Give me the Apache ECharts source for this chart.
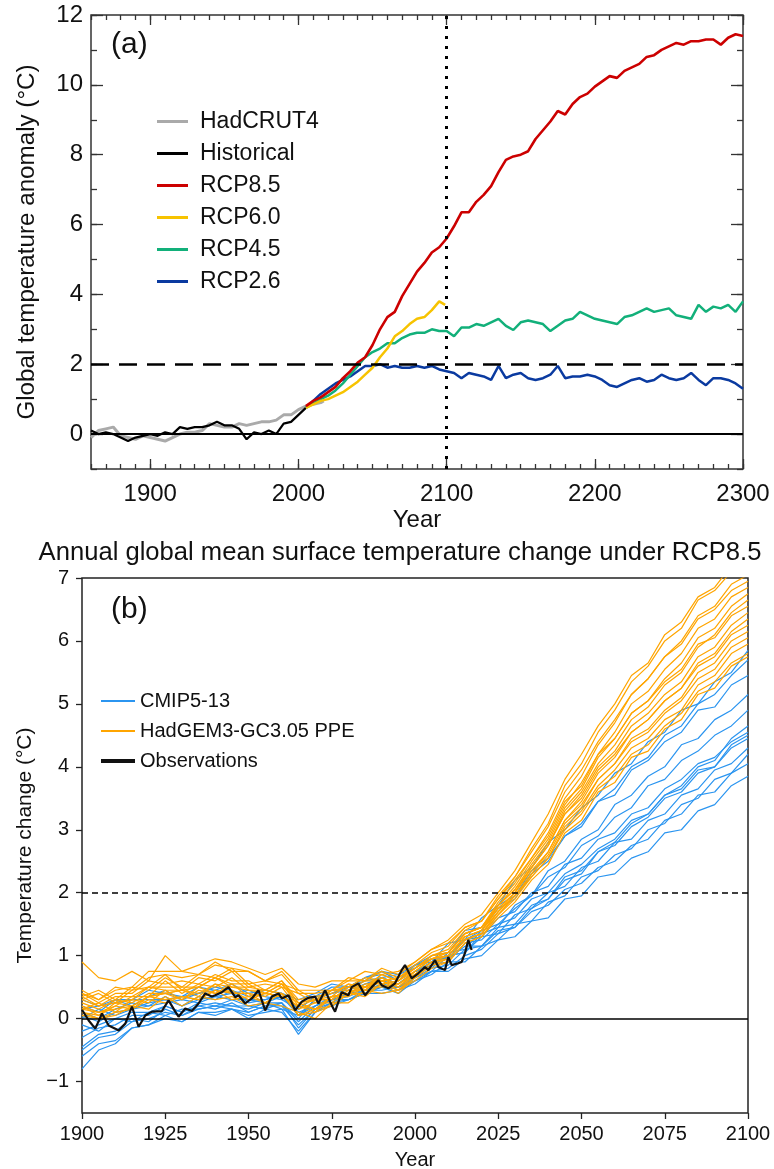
<!DOCTYPE html>
<html lang="en">
<head>
<meta charset="UTF-8">
<title>Global temperature anomaly</title>
<script src="https://cdn.jsdelivr.net/npm/echarts@6/dist/echarts.min.js"></script>
<style>
    html, body { margin: 0; padding: 0; background: #fff; }
    #chart { width: 774px; height: 1169px; }
</style>
</head>
<body>
<div id="chart"></div>
<script>
    /* ---- panel (a) ---- */
    const aMajorX = [1900, 2000, 2100, 2200, 2300];
    const aMajorY = [0, 2, 4, 6, 8, 10, 12];

    const hadYears = [1860,1865,1870,1875,1880,1885,1890,1895,1900,1905,1910,1915,1920,1925,1930,1935,1940,1945,1950,1955,1960,1965,1970,1975,1980,1985,1990,1995,2000,2005,2010,2015,2017];
    const hadVals = [-0.1,0.1,0.15,0.2,-0.05,-0.1,-0.15,-0.05,-0.1,-0.15, -0.2,-0.1,0.0,0.05,0.05,0.1,0.3,0.25,0.2,0.2, 0.3,0.25,0.3,0.35,0.35,0.4,0.55,0.55,0.7,0.8, 0.85,0.9,0.95];

    const histYears = [1860,1865,1870,1875,1880,1885,1890,1895,1900,1905,1910,1915,1920,1925,1930,1935,1940,1945,1950,1955,1960,1965,1970,1975,1980,1985,1990,1995,2000,2005];
    const histVals = [0.1,0.0,0.05,0.0,-0.1,-0.2,-0.1,-0.05,0.0,-0.05, 0.05,0.0,0.2,0.15,0.2,0.2,0.25,0.35,0.25,0.25, 0.15,-0.15,0.05,0.0,0.1,0.0,0.3,0.35,0.55,0.75];

    const rcpYears = [2005,2010,2015,2020,2025,2030,2035,2040,2045,2050,2055,2060,2065,2070,2075,2080,2085,2090,2095,2100,
        2105,2110,2115,2120,2125,2130,2135,2140,2145,2150,2155,2160,2165,2170,2175,2180,2185,2190,2195,2200,
        2205,2210,2215,2220,2225,2230,2235,2240,2245,2250,2255,2260,2265,2270,2275,2280,2285,2290,2295,2300];
    const rcp85 = [0.8,0.95,1.05,1.2,1.35,1.6,1.8,2.05,2.2,2.55, 3.0,3.35,3.5,3.95,4.3,4.65,4.9,5.2,5.35,5.6,
        5.95,6.35,6.35,6.65,6.85,7.1,7.5,7.85,7.95,8.0, 8.1,8.45,8.7,8.95,9.25,9.15,9.45,9.65,9.75,9.95,
        10.1,10.25,10.2,10.4,10.5,10.6,10.8,10.85,11.0,11.1, 11.2,11.15,11.25,11.25,11.3,11.3,11.15,11.35,11.45,11.4];
    const rcp45 = [0.75,0.88,1.0,1.1,1.25,1.45,1.7,1.95,2.2,2.35, 2.45,2.6,2.6,2.75,2.85,2.9,2.9,3.0,2.95,2.95,
        2.8,3.05,3.05,3.15,3.1,3.2,3.3,3.1,2.98,3.2, 3.25,3.2,3.15,2.95,3.1,3.25,3.3,3.5,3.4,3.3,
        3.25,3.2,3.15,3.35,3.4,3.5,3.6,3.5,3.55,3.6, 3.4,3.35,3.3,3.7,3.5,3.65,3.6,3.7,3.5,3.8];
    const rcp26 = [0.75,0.95,1.15,1.3,1.45,1.55,1.65,1.8,1.95,1.95, 2.0,1.9,1.95,1.9,1.9,1.95,1.9,1.95,1.85,1.8,
        1.75,1.6,1.75,1.7,1.65,1.55,1.95,1.6,1.7,1.75, 1.6,1.55,1.6,1.7,1.95,1.6,1.65,1.65,1.7,1.65,
        1.55,1.4,1.35,1.45,1.55,1.6,1.5,1.55,1.7,1.6, 1.55,1.6,1.75,1.55,1.4,1.6,1.6,1.55,1.45,1.3];
    const rcp60Years = [2005,2010,2015,2020,2025,2030,2035,2040,2045,2050,2055,2060,2065,2070,2075,2080,2085,2090,2095,2099];
    const rcp60 = [0.75,0.85,0.95,1.0,1.1,1.2,1.35,1.5,1.7,1.9, 2.2,2.45,2.8,2.95,3.15,3.3,3.35,3.55,3.8,3.7];

    /* ---- panel (b) ---- */
    const bTicksY = [-1, 0, 1, 2, 3, 4, 5, 6, 7];
    const bYears = [1900,1905,1910,1915,1920,1925,1930,1935,1940,1945,1950,1955,1960,1965,1970,1975,1980,1985,1990,1995,
        2000,2005,2010,2015,2020,2025,2030,2035,2040,2045,2050,2055,2060,2065,2070,2075,2080,2085,2090,2095,2100];

    const cmip5 = [
        [0.1,0.0,0.15,0.25,0.2,0.35,0.2,0.35,0.3,0.45, 0.25,0.3,0.4,0.05,0.3,0.45,0.45,0.6,0.75,0.6, 0.85,0.9,1.2,1.25,1.6,1.8,2.2,2.4,2.8,3.0,3.35,3.55,3.9,4.05,4.4,4.55,4.9,5.0,5.35,5.5,5.85],
        [-0.3,-0.15,-0.1,0.05,0.05,0.2,0.1,0.25,0.2,0.3, 0.2,0.25,0.25,0.0,0.3,0.3,0.5,0.45,0.65,0.55, 0.75,0.9,1.0,1.25,1.4,1.75,1.9,2.3,2.5,2.9,3.1,3.45,3.65,4.0,4.15,4.5,4.65,5.0,5.15,5.45,5.7],
        [0.2,0.1,0.3,0.2,0.35,0.45,0.3,0.4,0.5,0.45, 0.35,0.45,0.4,0.15,0.35,0.5,0.5,0.65,0.7,0.6, 0.85,1.0,1.05,1.4,1.45,1.8,1.95,2.35,2.55,2.9,3.05,3.45,3.55,3.95,4.1,4.4,4.55,4.9,4.95,5.3,5.45],
        [-0.5,-0.3,-0.25,-0.05,0.0,0.1,0.05,0.15,0.2,0.15, 0.1,0.2,0.25,-0.15,0.15,0.25,0.4,0.4,0.55,0.45, 0.65,0.75,1.0,1.05,1.35,1.45,1.8,1.95,2.35,2.5,2.85,3.0,3.4,3.55,3.85,4.0,4.35,4.45,4.75,4.9,5.15],
        [0.0,0.15,0.05,0.15,0.25,0.3,0.2,0.3,0.35,0.4, 0.3,0.25,0.35,0.1,0.2,0.35,0.4,0.55,0.6,0.55, 0.75,0.8,1.05,1.1,1.4,1.5,1.75,1.95,2.25,2.4,2.75,2.9,3.2,3.35,3.7,3.8,4.1,4.25,4.5,4.65,4.9],
        [-0.8,-0.5,-0.4,-0.15,-0.1,0.0,-0.05,0.1,0.05,0.15, 0.05,0.1,0.15,-0.25,0.1,0.2,0.3,0.4,0.4,0.45, 0.55,0.75,0.8,1.0,1.1,1.35,1.45,1.75,1.9,2.25,2.35,2.65,2.8,3.1,3.25,3.55,3.7,4.0,4.1,4.45,4.65],
        [0.15,0.2,0.25,0.3,0.3,0.3,0.35,0.4,0.45,0.4, 0.45,0.35,0.3,0.15,0.35,0.4,0.5,0.6,0.65,0.7, 0.8,0.95,1.0,1.25,1.3,1.6,1.7,2.0,2.1,2.45,2.55,2.85,2.95,3.25,3.35,3.65,3.8,4.05,4.15,4.4,4.55],
        [-0.2,-0.1,0.0,0.1,0.1,0.2,0.1,0.2,0.25,0.2, 0.2,0.15,0.25,-0.05,0.2,0.3,0.4,0.45,0.55,0.5, 0.65,0.8,0.85,1.1,1.15,1.45,1.5,1.8,1.9,2.2,2.3,2.65,2.75,3.05,3.2,3.5,3.6,3.9,4.0,4.35,4.5],
        [-0.45,-0.25,-0.2,0.0,-0.05,0.15,0.05,0.2,0.15,0.25, 0.1,0.2,0.2,-0.1,0.15,0.3,0.35,0.45,0.5,0.5, 0.7,0.85,0.9,1.2,1.25,1.5,1.6,1.9,2.0,2.3,2.45,2.7,2.85,3.15,3.25,3.55,3.65,3.95,4.0,4.3,4.45],
        [0.05,-0.05,0.1,0.15,0.2,0.25,0.3,0.25,0.35,0.3, 0.3,0.3,0.35,0.05,0.3,0.4,0.45,0.55,0.65,0.55, 0.75,0.85,1.0,1.05,1.3,1.35,1.65,1.75,2.0,2.1,2.4,2.5,2.8,2.85,3.15,3.25,3.55,3.65,3.95,4.05,4.3],
        [-0.6,-0.4,-0.35,-0.15,-0.1,0.05,-0.05,0.1,0.1,0.15, 0.0,0.15,0.1,-0.2,0.1,0.25,0.3,0.4,0.5,0.4, 0.6,0.7,0.9,0.9,1.15,1.25,1.5,1.55,1.85,1.95,2.25,2.35,2.6,2.7,3.0,3.1,3.4,3.5,3.8,3.9,4.2],
        [0.3,0.2,0.3,0.3,0.45,0.4,0.35,0.5,0.45,0.55, 0.4,0.45,0.4,0.3,0.4,0.55,0.5,0.65,0.75,0.7, 0.85,0.95,0.95,1.15,1.15,1.4,1.45,1.7,1.8,2.05,2.15,2.4,2.5,2.75,2.85,3.15,3.25,3.55,3.6,3.9,4.05],
        [-0.1,-0.2,0.0,-0.05,0.1,0.05,0.15,0.15,0.2,0.2, 0.15,0.25,0.15,0.05,0.2,0.3,0.3,0.45,0.45,0.5, 0.6,0.75,0.75,0.95,1.0,1.25,1.3,1.55,1.6,1.9,1.95,2.25,2.3,2.55,2.65,2.95,3.0,3.3,3.4,3.7,3.85]
    ];

    const ppe = [
        [0.9,0.65,0.6,0.75,0.6,1.0,0.75,0.85,0.95,0.9, 0.8,0.7,0.8,0.55,0.5,0.6,0.6,0.75,0.7,0.75, 0.9,1.1,1.25,1.5,1.65,2.0,2.35, 2.8,3.25,3.8,4.2,4.65,5.0,5.45,5.65, 6.1,6.3,6.7,6.85,7.2,7.3],
        [0.3,0.2,0.25,0.3,0.5,0.45,0.45,0.5,0.65,0.5, 0.5,0.45,0.6,0.3,0.35,0.4,0.55,0.5,0.7,0.6, 0.8,1.0,1.1,1.4,1.55,1.95,2.25, 2.7,3.1,3.7,4.05,4.55,4.9,5.35,5.6, 6.0,6.2,6.65,6.8,7.1,7.2],
        [0.15,0.1,0.2,0.35,0.35,0.6,0.4,0.55,0.5,0.65, 0.45,0.45,0.4,0.25,0.15,0.35,0.4,0.55,0.55,0.6, 0.75,0.95,1.05,1.35,1.45,1.85,2.15, 2.55,2.95,3.5,3.85,4.35,4.7,5.15,5.4, 5.75,6.0,6.4,6.55,6.9,7.05],
        [0.4,0.3,0.5,0.45,0.65,0.7,0.65,0.7,0.85,0.8, 0.75,0.6,0.7,0.4,0.4,0.45,0.6,0.6,0.75,0.65, 0.85,1.05,1.15,1.45,1.55,1.9,2.25, 2.65,3.05,3.6,3.95,4.4,4.75,5.15,5.4, 5.75,5.95,6.35,6.5,6.8,6.95],
        [0.2,0.1,0.15,0.2,0.35,0.4,0.3,0.45,0.4,0.45, 0.3,0.4,0.35,0.2,0.15,0.35,0.4,0.5,0.6,0.5, 0.7,0.9,1.0,1.3,1.4,1.8,2.1, 2.5,2.85,3.4,3.75,4.2,4.55,5.0,5.2, 5.55,5.8,6.2,6.35,6.7,6.85],
        [0.35,0.45,0.3,0.5,0.45,0.65,0.5,0.7,0.65,0.8, 0.55,0.6,0.55,0.45,0.3,0.45,0.5,0.65,0.6,0.65, 0.8,0.95,1.05,1.35,1.45,1.8,2.05, 2.45,2.8,3.35,3.65,4.15,4.45,4.85,5.05, 5.4,5.65,6.05,6.2,6.55,6.75],
        [0.1,0.05,0.2,0.15,0.35,0.3,0.35,0.3,0.45,0.4, 0.4,0.25,0.4,0.05,0.15,0.2,0.4,0.4,0.55,0.45, 0.65,0.85,0.95,1.25,1.35,1.7,2.0, 2.4,2.75,3.3,3.6,4.05,4.35,4.75,4.95, 5.3,5.5,5.9,6.1,6.45,6.65],
        [0.45,0.3,0.45,0.5,0.75,0.75,0.75,0.7,0.9,0.75, 0.75,0.6,0.75,0.45,0.45,0.45,0.65,0.6,0.8,0.7, 0.9,1.1,1.2,1.45,1.55,1.9,2.2, 2.55,2.9,3.45,3.7,4.2,4.45,4.85,5.05, 5.35,5.55,5.95,6.05,6.4,6.55],
        [0.25,0.15,0.3,0.25,0.4,0.4,0.45,0.4,0.55,0.5, 0.45,0.4,0.55,0.2,0.3,0.3,0.5,0.45,0.65,0.5, 0.75,0.95,1.0,1.3,1.4,1.75,2.0, 2.4,2.75,3.25,3.55,4.0,4.25,4.65,4.85, 5.15,5.35,5.75,5.9,6.25,6.45],
        [0.05,0.0,0.05,0.2,0.15,0.35,0.2,0.35,0.3,0.35, 0.2,0.25,0.2,0.1,0.0,0.25,0.25,0.45,0.4,0.45, 0.6,0.8,0.9,1.2,1.3,1.65,1.95, 2.3,2.65,3.15,3.45,3.9,4.15,4.55,4.75, 5.05,5.25,5.65,5.8,6.15,6.35],
        [0.3,0.4,0.25,0.45,0.5,0.7,0.45,0.65,0.6,0.75, 0.5,0.55,0.5,0.4,0.25,0.45,0.45,0.6,0.6,0.65, 0.8,1.0,1.05,1.35,1.45,1.8,2.05, 2.4,2.75,3.25,3.5,3.95,4.2,4.55,4.75, 5.05,5.25,5.6,5.75,6.1,6.25],
        [0.2,0.05,0.25,0.2,0.35,0.4,0.45,0.35,0.55,0.4, 0.4,0.35,0.5,0.15,0.25,0.25,0.45,0.45,0.6,0.45, 0.7,0.9,0.95,1.25,1.35,1.7,1.95, 2.3,2.6,3.1,3.35,3.8,4.05,4.45,4.6, 4.9,5.1,5.5,5.65,6.0,6.15],
        [0.4,0.25,0.4,0.4,0.6,0.55,0.6,0.55,0.7,0.6, 0.6,0.45,0.6,0.25,0.3,0.35,0.55,0.5,0.7,0.6, 0.8,1.0,1.05,1.35,1.45,1.75,2.0, 2.35,2.65,3.15,3.4,3.8,4.05,4.4,4.55, 4.85,5.05,5.4,5.55,5.9,6.05],
        [0.15,0.25,0.1,0.3,0.25,0.45,0.3,0.5,0.4,0.55, 0.35,0.4,0.35,0.2,0.1,0.35,0.35,0.5,0.5,0.55, 0.7,0.9,0.95,1.25,1.35,1.65,1.9, 2.25,2.55,3.05,3.3,3.7,3.95,4.3,4.45, 4.75,4.9,5.3,5.45,5.8,5.95],
        [0.35,0.2,0.35,0.35,0.5,0.5,0.5,0.5,0.65,0.55, 0.55,0.4,0.55,0.25,0.3,0.3,0.5,0.5,0.65,0.55, 0.75,0.95,1.0,1.3,1.4,1.7,1.95, 2.25,2.55,3.0,3.25,3.65,3.85,4.2,4.35, 4.65,4.85,5.2,5.35,5.65,5.8],
        [0.1,0.0,0.1,0.15,0.3,0.25,0.35,0.3,0.45,0.3, 0.35,0.25,0.4,0.05,0.1,0.2,0.4,0.35,0.55,0.4, 0.65,0.85,0.9,1.2,1.3,1.6,1.85, 2.2,2.45,2.95,3.15,3.6,3.75,4.15,4.25, 4.6,4.75,5.15,5.25,5.6,5.75]
    ];

    const obsYears = [1900,1902,1904,1906,1908,1910,1911,1913,1915,1917,1919,1921,1924,1926,1928,1929,1931,1933,1935,1937,1939,1940,1942,1944,1946,1947,1949,1951,1953,1955,
        1957,1959,1960,1962,1964,1966,1968,1970,1971,1973,1975,1976,1978,1980,1981,1983,1985,1987,1989,1990,1992,1994,1996,1997,1999,2001,2003,2004,2006,2007,2009,2010,2011,2013,2014,2015,2016,2017];
    const obsVals = [0.14,-0.03,-0.16,0.08,-0.11,-0.16,-0.19,-0.08,0.19,-0.13,0.05,0.11,0.12,0.29,0.11,0.03,0.16,0.12,0.24,0.4,0.35,0.37,0.42,0.5,0.34,0.37,0.24,0.32,0.45,0.13,
        0.35,0.4,0.32,0.37,0.13,0.27,0.33,0.35,0.24,0.45,0.21,0.11,0.42,0.37,0.5,0.56,0.37,0.5,0.61,0.53,0.48,0.56,0.77,0.85,0.64,0.72,0.82,0.77,0.93,0.82,0.77,0.98,0.85,0.88,0.9,1.04,1.25,1.09];

    const FONT = 'Liberation Sans, Arial, sans-serif';
    const pair = (xs, ys) => xs.map((x, i) => [x, ys[i]]);

    /* tick helpers */
    const noLine = {show: false, onZero: false};
    const frameTick = (len, custom) => {
        const t = {inside: true, length: len, lineStyle: {color: '#333', width: 1.3}};
        if (custom) t.customValues = custom;
        return t;
    };

    const chart = echarts.init(document.getElementById('chart'));

    const series = [];
    series.push({
        name: 'HadCRUT4', type: 'line', xAxisIndex: 0, yAxisIndex: 0,
        data: pair(hadYears, hadVals), symbol: 'none',
        lineStyle: {color: '#aaaaaa', width: 3}, itemStyle: {color: '#aaaaaa'}
    });
    series.push({
        name: 'Historical', type: 'line', xAxisIndex: 0, yAxisIndex: 0,
        data: pair(histYears, histVals), symbol: 'none',
        lineStyle: {color: '#000', width: 2.2}, itemStyle: {color: '#000'},
        markLine: {
            silent: true, symbol: 'none', label: {show: false}, animation: false,
            data: [
                {yAxis: 0, lineStyle: {type: 'solid', color: '#000', width: 2}},
                {yAxis: 2, lineStyle: {type: [18, 10], color: '#000', width: 2.5}},
                {xAxis: 2100, lineStyle: {type: [3, 7], color: '#000', width: 3}}
            ]
        }
    });
    series.push({
        name: 'RCP2.6', type: 'line', xAxisIndex: 0, yAxisIndex: 0,
        data: pair(rcpYears, rcp26), symbol: 'none',
        lineStyle: {color: '#0a3aa0', width: 2.5}, itemStyle: {color: '#0a3aa0'}
    });
    series.push({
        name: 'RCP4.5', type: 'line', xAxisIndex: 0, yAxisIndex: 0,
        data: pair(rcpYears, rcp45), symbol: 'none',
        lineStyle: {color: '#12b07a', width: 2.5}, itemStyle: {color: '#12b07a'}
    });
    series.push({
        name: 'RCP6.0', type: 'line', xAxisIndex: 0, yAxisIndex: 0,
        data: pair(rcp60Years, rcp60), symbol: 'none',
        lineStyle: {color: '#f7c300', width: 2.5}, itemStyle: {color: '#f7c300'}
    });
    series.push({
        name: 'RCP8.5', type: 'line', xAxisIndex: 0, yAxisIndex: 0,
        data: pair(rcpYears, rcp85), symbol: 'none',
        lineStyle: {color: '#cc0000', width: 2.6}, itemStyle: {color: '#cc0000'}
    });

    cmip5.forEach((vals, i) => {
        series.push({
            name: 'CMIP5-13', type: 'line', xAxisIndex: 4, yAxisIndex: 4,
            data: pair(bYears, vals), symbol: 'none',
            lineStyle: {color: '#2b95f0', width: 1.2}, itemStyle: {color: '#2b95f0'},
            markLine: i === 0 ? {
                silent: true, symbol: 'none', label: {show: false}, animation: false,
                data: [
                    {yAxis: 0, lineStyle: {type: 'solid', color: '#000', width: 1.5}},
                    {yAxis: 2, lineStyle: {type: [6, 4], color: '#000', width: 1.5}}
                ]
            } : undefined
        });
    });
    ppe.forEach((vals) => {
        series.push({
            name: 'HadGEM3-GC3.05 PPE', type: 'line', xAxisIndex: 4, yAxisIndex: 4,
            data: pair(bYears, vals), symbol: 'none',
            lineStyle: {color: '#ffa500', width: 1.2}, itemStyle: {color: '#ffa500'}
        });
    });
    series.push({
        name: 'Observations', type: 'line', xAxisIndex: 4, yAxisIndex: 4,
        data: pair(obsYears, obsVals), symbol: 'none',
        lineStyle: {color: '#111', width: 2.2}, itemStyle: {color: '#111'}
    });

    const legendText = size => ({fontFamily: FONT, fontSize: size, color: '#111'});

    const option = {
        animation: false,
        backgroundColor: '#fff',
        textStyle: {fontFamily: FONT, color: '#111'},
        title: [
            {text: '(a)', left: 106, top: 25, textStyle: {fontFamily: FONT, fontSize: 30, fontWeight: 'normal', color: '#111'}},
            {text: '(b)', left: 106, top: 590, textStyle: {fontFamily: FONT, fontSize: 30, fontWeight: 'normal', color: '#111'}},
            {text: 'Annual global mean surface temperature change under RCP8.5', left: 395, top: 535, textAlign: 'center',
                textStyle: {fontFamily: FONT, fontSize: 25.6, fontWeight: 'normal', color: '#111'}}
        ],
        legend: [
            {
                data: ['HadCRUT4', 'Historical', 'RCP8.5', 'RCP6.0', 'RCP4.5', 'RCP2.6'],
                orient: 'vertical', left: 152, top: 105, icon: 'rect', itemWidth: 31, itemHeight: 3, itemGap: 9,
                textStyle: Object.assign(legendText(23), {padding: [0, 0, 0, 7]})
            },
            {
                data: ['CMIP5-13', 'HadGEM3-GC3.05 PPE'],
                orient: 'vertical', left: 96, top: 686, icon: 'rect', itemWidth: 34, itemHeight: 2, itemGap: 10,
                textStyle: legendText(20)
            },
            {
                data: ['Observations'],
                orient: 'vertical', left: 96, top: 746, icon: 'rect', itemWidth: 34, itemHeight: 4,
                textStyle: legendText(20)
            }
        ],
        grid: [
            {left: 91, top: 15, width: 652, height: 454, show: true, borderColor: '#333', borderWidth: 1.5, outerBoundsMode: 'none'},
            {left: 82, top: 578, width: 666, height: 535, show: true, borderColor: '#222', borderWidth: 1.5, outerBoundsMode: 'none'}
        ],
        xAxis: [
            {
                gridIndex: 0, type: 'value', position: 'bottom', min: 1860, max: 2300, interval: 10,
                axisLine: noLine, splitLine: {show: false}, axisTick: frameTick(5),
                axisLabel: {customValues: aMajorX, fontSize: 24, color: '#111', margin: 13, formatter: v => String(v)},
                name: 'Year', nameLocation: 'middle', nameGap: 39,
                nameTextStyle: {fontSize: 24, color: '#111'}
            },
            {
                gridIndex: 0, type: 'value', position: 'bottom', min: 1860, max: 2300,
                axisLine: noLine, splitLine: {show: false}, axisTick: frameTick(10, aMajorX),
                axisLabel: {show: false}
            },
            {
                gridIndex: 0, type: 'value', position: 'top', min: 1860, max: 2300, interval: 10,
                axisLine: noLine, splitLine: {show: false}, axisTick: frameTick(5),
                axisLabel: {show: false}
            },
            {
                gridIndex: 0, type: 'value', position: 'top', min: 1860, max: 2300,
                axisLine: noLine, splitLine: {show: false}, axisTick: frameTick(10, aMajorX),
                axisLabel: {show: false}
            },
            {
                gridIndex: 1, type: 'value', position: 'bottom', min: 1900, max: 2100, interval: 25,
                axisLine: noLine, splitLine: {show: false},
                axisTick: {inside: false, length: 6, lineStyle: {color: '#222', width: 1.3}},
                axisLabel: {fontSize: 20, color: '#111', margin: 11, formatter: v => String(v)},
                name: 'Year', nameLocation: 'middle', nameGap: 37,
                nameTextStyle: {fontSize: 20, color: '#111'}
            }
        ],
        yAxis: [
            {
                gridIndex: 0, type: 'value', position: 'left', min: -1, max: 12, interval: 1,
                axisLine: noLine, splitLine: {show: false}, axisTick: frameTick(6),
                axisLabel: {customValues: aMajorY, fontSize: 24, color: '#111', margin: 8},
                name: 'Global temperature anomaly (°C)', nameLocation: 'middle', nameGap: 52,
                nameTextStyle: {fontSize: 24.2, color: '#111'}
            },
            {
                gridIndex: 0, type: 'value', position: 'left', min: -1, max: 12,
                axisLine: noLine, splitLine: {show: false}, axisTick: frameTick(12, aMajorY),
                axisLabel: {show: false}
            },
            {
                gridIndex: 0, type: 'value', position: 'right', min: -1, max: 12, interval: 1,
                axisLine: noLine, splitLine: {show: false}, axisTick: frameTick(6),
                axisLabel: {show: false}
            },
            {
                gridIndex: 0, type: 'value', position: 'right', min: -1, max: 12,
                axisLine: noLine, splitLine: {show: false}, axisTick: frameTick(12, aMajorY),
                axisLabel: {show: false}
            },
            {
                gridIndex: 1, type: 'value', position: 'left', min: -1.5, max: 7,
                axisLine: noLine, splitLine: {show: false},
                axisTick: {inside: false, length: 6, customValues: bTicksY, lineStyle: {color: '#222', width: 1.3}},
                axisLabel: {
                    customValues: bTicksY, fontSize: 20, color: '#111', margin: 13,
                    formatter: v => String(v).replace('-', '\u2212')
                },
                name: 'Temperature change (°C)', nameLocation: 'middle', nameGap: 46,
                nameTextStyle: {fontSize: 21, color: '#111'}
            }
        ],
        series: series
    };
    chart.setOption(option);
</script>
</body>
</html>
